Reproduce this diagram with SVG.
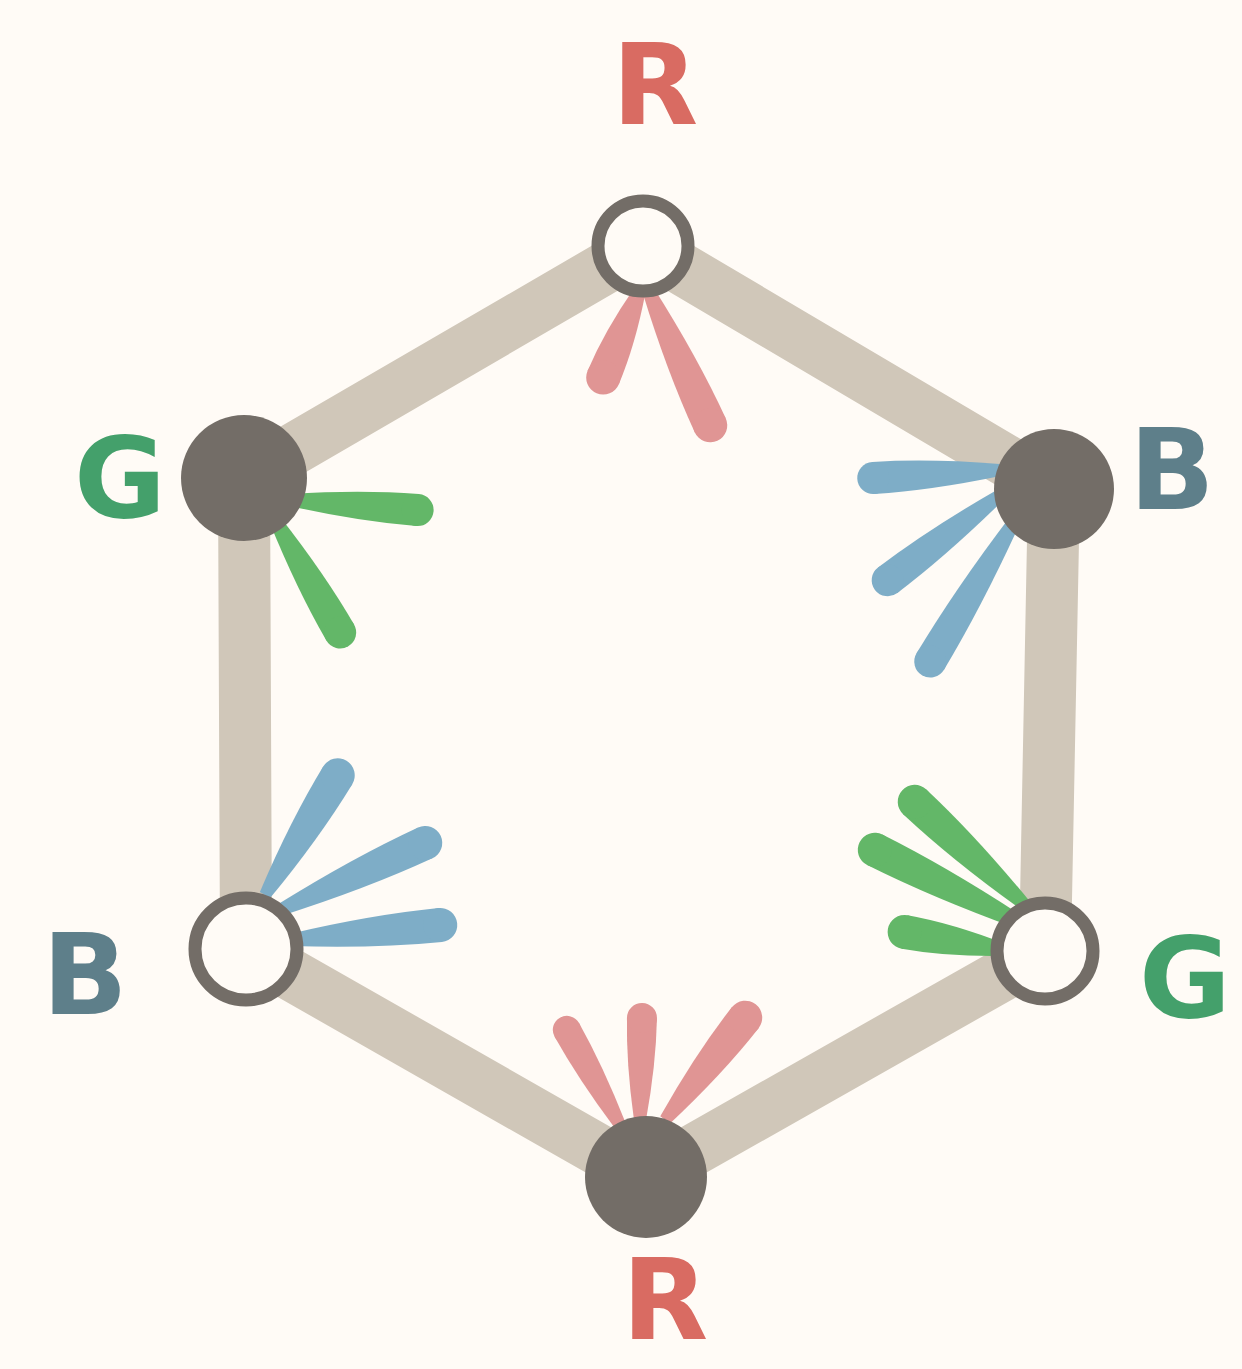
<svg xmlns="http://www.w3.org/2000/svg" width="1242" height="1369" viewBox="0 0 1242 1369">
<style>
.edge{fill:none;stroke:#d0c7b9;stroke-width:52;stroke-linecap:round;stroke-linejoin:round}
.pr{fill:#e09594}
.pg{fill:#63b768}
.pb{fill:#7eadc7}
.full{fill:#736d67}
.open{fill:#fffbf6;stroke:#736d67;stroke-width:13}
.lbl{font-family:"DejaVu Sans","Liberation Sans",sans-serif;font-weight:bold;font-size:112px;text-anchor:middle;dominant-baseline:central}
</style>
<rect width="1242" height="1369" fill="#fffbf6"/>
<g id="connectors">
<path class="edge" d="M643,246 L1054,489 L1045,951 L646,1177 L246,949 L244,478 Z"/>
</g>
<g id="petals">
<g class="pr" transform="translate(640,290) rotate(112.8)"><path d="M0,-6 Q52,-17 95,-17 L95,17 Q52,17 0,6 Z"/><circle cx="95" r="17"/></g>
<g class="pr" transform="translate(648,290) rotate(65.3)"><path d="M0,-6 Q82,-17 149,-17 L149,17 Q82,17 0,6 Z"/><circle cx="149" r="17"/></g>
<g class="pg" transform="translate(290,500) rotate(4.5)"><path d="M0,-6 Q70,-16 128,-16 L128,16 Q70,16 0,6 Z"/><circle cx="128" r="16"/></g>
<g class="pg" transform="translate(275,520) rotate(59.9)"><path d="M0,-6 Q72,-16 130,-16 L130,16 Q72,16 0,6 Z"/><circle cx="130" r="16"/></g>
<g class="pb" transform="translate(1000,470) rotate(176.4)"><path d="M0,-6 Q70,-16 127,-16 L127,16 Q70,16 0,6 Z"/><circle cx="127" r="16"/></g>
<g class="pb" transform="translate(1000,495) rotate(142.8)"><path d="M0,-6 Q78,-16 141,-16 L141,16 Q78,16 0,6 Z"/><circle cx="141" r="16"/></g>
<g class="pb" transform="translate(1015,520) rotate(120.9)"><path d="M0,-6 Q90,-16 165,-16 L165,16 Q90,16 0,6 Z"/><circle cx="165" r="16"/></g>
<g class="pb" transform="translate(265,895) rotate(-58.7)"><path d="M0,-6 Q77,-17 140,-17 L140,17 Q77,17 0,6 Z"/><circle cx="140" r="17"/></g>
<g class="pb" transform="translate(280,910) rotate(-24.8)"><path d="M0,-6 Q88,-17 160,-17 L160,17 Q88,17 0,6 Z"/><circle cx="160" r="17"/></g>
<g class="pb" transform="translate(290,940) rotate(-5.7)"><path d="M0,-6 Q83,-17 151,-17 L151,17 Q83,17 0,6 Z"/><circle cx="151" r="17"/></g>
<g class="pg" transform="translate(1025,925) rotate(-153.4)"><path d="M0,-6 Q92,-17 168,-17 L168,17 Q92,17 0,6 Z"/><circle cx="168" r="17"/></g>
<g class="pg" transform="translate(1025,905) rotate(-136.9)"><path d="M0,-6 Q83,-17 151,-17 L151,17 Q83,17 0,6 Z"/><circle cx="151" r="17"/></g>
<g class="pg" transform="translate(1005,950) rotate(-169.8)"><path d="M0,-6 Q56,-17 102,-17 L102,17 Q56,17 0,6 Z"/><circle cx="102" r="17"/></g>
<g class="pr" transform="translate(620,1125) rotate(-119.2)"><path d="M0,-6 Q60,-14 109,-14 L109,14 Q60,14 0,6 Z"/><circle cx="109" r="14"/></g>
<g class="pr" transform="translate(640,1120) rotate(-88.9)"><path d="M0,-6 Q56,-15 102,-15 L102,15 Q56,15 0,6 Z"/><circle cx="102" r="15"/></g>
<g class="pr" transform="translate(665,1120) rotate(-51.9)"><path d="M0,-6 Q72,-17 130,-17 L130,17 Q72,17 0,6 Z"/><circle cx="130" r="17"/></g>
</g>
<g id="node-top"><circle class="open" cx="643" cy="246" r="45"/></g>
<g id="node-tr"><circle class="full" cx="1054" cy="489" r="60"/></g>
<g id="node-br"><circle class="open" cx="1045" cy="951" r="48"/></g>
<g id="node-bottom"><circle class="full" cx="646" cy="1177" r="61"/></g>
<g id="node-bl"><circle class="open" cx="246" cy="949" r="51"/></g>
<g id="node-tl"><circle class="full" cx="244" cy="478" r="63"/></g>
<g id="labels">
<text class="lbl" x="655" y="85" fill="#d96b62">R</text>
<text class="lbl" x="120" y="478" fill="#44a06b">G</text>
<text class="lbl" x="1172" y="470" fill="#5e7f8a">B</text>
<text class="lbl" x="85" y="975" fill="#5e7f8a">B</text>
<text class="lbl" x="1185" y="978" fill="#44a06b">G</text>
<text class="lbl" x="665" y="1300" fill="#d96b62">R</text>
</g>
</svg>
